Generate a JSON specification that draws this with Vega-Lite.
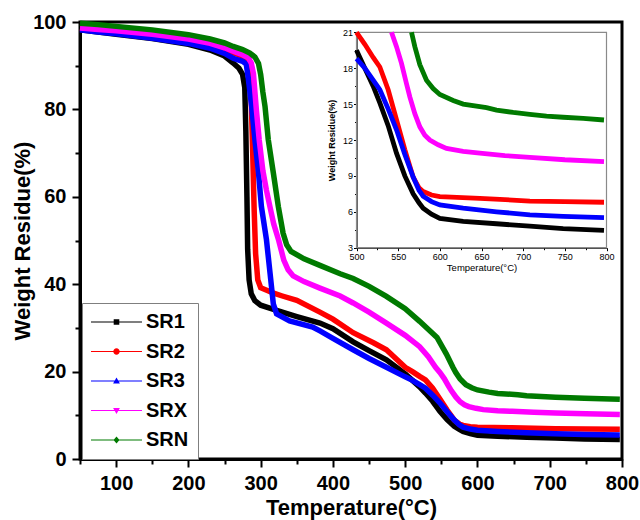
{
  "$schema": "https://vega.github.io/schema/vega-lite/v6.json",
  "autosize": "none",
  "width": 542,
  "height": 437,
  "padding": {"left": 80, "top": 22, "right": 18, "bottom": 61},
  "background": "white",
  "config": {
    "view": {"stroke": "black", "strokeWidth": 3},
    "font": "Liberation Sans",
    "axis": {"labelFont": "Liberation Sans", "titleFont": "Liberation Sans", "grid": false, "labelOverlap": false, "labelFlush": false}
  },
  "datasets": {
    "main": [
      {"s":"SR1","t":50,"w":98.2},{"s":"SR1","t":75,"w":97.7},{"s":"SR1","t":100,"w":97.2},{"s":"SR1","t":150,"w":96.2},{"s":"SR1","t":200,"w":94.9},{"s":"SR1","t":230,"w":93.6},{"s":"SR1","t":250,"w":92.2},{"s":"SR1","t":262,"w":90.6},{"s":"SR1","t":270,"w":89.4},{"s":"SR1","t":275,"w":88.0},{"s":"SR1","t":278,"w":85.0},{"s":"SR1","t":279.5,"w":75},{"s":"SR1","t":281,"w":60},{"s":"SR1","t":282,"w":48},{"s":"SR1","t":284,"w":41},{"s":"SR1","t":287,"w":37.8},{"s":"SR1","t":292,"w":36.2},{"s":"SR1","t":300,"w":35.2},{"s":"SR1","t":320,"w":34.1},{"s":"SR1","t":350,"w":32.6},{"s":"SR1","t":382,"w":31.1},{"s":"SR1","t":400,"w":29.8},{"s":"SR1","t":428,"w":26.8},{"s":"SR1","t":450,"w":24.8},{"s":"SR1","t":474,"w":22.7},{"s":"SR1","t":500,"w":19.5},{"s":"SR1","t":510,"w":18.0},{"s":"SR1","t":520,"w":16.5},{"s":"SR1","t":528,"w":15.1},{"s":"SR1","t":538,"w":13.2},{"s":"SR1","t":548,"w":10.9},{"s":"SR1","t":558,"w":9.0},{"s":"SR1","t":568,"w":7.5},{"s":"SR1","t":575,"w":6.75},{"s":"SR1","t":580,"w":6.3},{"s":"SR1","t":590,"w":5.8},{"s":"SR1","t":600,"w":5.45},{"s":"SR1","t":628,"w":5.2},{"s":"SR1","t":668,"w":5.0},{"s":"SR1","t":708,"w":4.8},{"s":"SR1","t":748,"w":4.6},{"s":"SR1","t":797,"w":4.45},
      {"s":"SR2","t":50,"w":98.5},{"s":"SR2","t":75,"w":98.2},{"s":"SR2","t":100,"w":97.8},{"s":"SR2","t":150,"w":97.0},{"s":"SR2","t":200,"w":95.9},{"s":"SR2","t":230,"w":94.9},{"s":"SR2","t":250,"w":93.9},{"s":"SR2","t":262,"w":93.0},{"s":"SR2","t":275,"w":92.2},{"s":"SR2","t":282,"w":91.4},{"s":"SR2","t":285,"w":88.5},{"s":"SR2","t":287,"w":82},{"s":"SR2","t":289,"w":70},{"s":"SR2","t":291,"w":57},{"s":"SR2","t":293,"w":47},{"s":"SR2","t":296,"w":41},{"s":"SR2","t":300,"w":39.2},{"s":"SR2","t":310,"w":38.5},{"s":"SR2","t":317,"w":38.0},{"s":"SR2","t":330,"w":37.3},{"s":"SR2","t":350,"w":36.3},{"s":"SR2","t":382,"w":33.6},{"s":"SR2","t":400,"w":32.0},{"s":"SR2","t":428,"w":28.9},{"s":"SR2","t":456,"w":26.6},{"s":"SR2","t":474,"w":25.0},{"s":"SR2","t":500,"w":21.0},{"s":"SR2","t":510,"w":20.0},{"s":"SR2","t":520,"w":18.9},{"s":"SR2","t":528,"w":18.1},{"s":"SR2","t":538,"w":16.2},{"s":"SR2","t":548,"w":13.7},{"s":"SR2","t":558,"w":11.2},{"s":"SR2","t":568,"w":8.9},{"s":"SR2","t":575,"w":8.0},{"s":"SR2","t":580,"w":7.7},{"s":"SR2","t":590,"w":7.4},{"s":"SR2","t":600,"w":7.27},{"s":"SR2","t":648,"w":7.13},{"s":"SR2","t":708,"w":6.9},{"s":"SR2","t":750,"w":6.85},{"s":"SR2","t":797,"w":6.8},
      {"s":"SR3","t":50,"w":98.2},{"s":"SR3","t":75,"w":97.7},{"s":"SR3","t":100,"w":97.3},{"s":"SR3","t":150,"w":96.3},{"s":"SR3","t":200,"w":95.1},{"s":"SR3","t":230,"w":94.0},{"s":"SR3","t":250,"w":92.8},{"s":"SR3","t":262,"w":91.7},{"s":"SR3","t":275,"w":91.0},{"s":"SR3","t":280,"w":90.4},{"s":"SR3","t":283,"w":87},{"s":"SR3","t":287.5,"w":80.7},{"s":"SR3","t":292,"w":73.1},{"s":"SR3","t":297,"w":65.5},{"s":"SR3","t":301,"w":57.8},{"s":"SR3","t":308,"w":50.2},{"s":"SR3","t":313,"w":42.5},{"s":"SR3","t":317.5,"w":35.5},{"s":"SR3","t":322,"w":33.2},{"s":"SR3","t":340,"w":31.6},{"s":"SR3","t":372,"w":30.2},{"s":"SR3","t":382,"w":29.3},{"s":"SR3","t":400,"w":27.6},{"s":"SR3","t":428,"w":25.0},{"s":"SR3","t":450,"w":23.0},{"s":"SR3","t":474,"w":21.0},{"s":"SR3","t":500,"w":18.8},{"s":"SR3","t":510,"w":18.0},{"s":"SR3","t":520,"w":17.0},{"s":"SR3","t":528,"w":16.2},{"s":"SR3","t":538,"w":14.6},{"s":"SR3","t":548,"w":12.85},{"s":"SR3","t":558,"w":10.8},{"s":"SR3","t":568,"w":8.9},{"s":"SR3","t":575,"w":7.8},{"s":"SR3","t":580,"w":7.3},{"s":"SR3","t":590,"w":6.85},{"s":"SR3","t":600,"w":6.57},{"s":"SR3","t":628,"w":6.3},{"s":"SR3","t":668,"w":6.0},{"s":"SR3","t":708,"w":5.75},{"s":"SR3","t":748,"w":5.62},{"s":"SR3","t":797,"w":5.52},
      {"s":"SRX","t":50,"w":98.6},{"s":"SRX","t":75,"w":98.3},{"s":"SRX","t":100,"w":98.0},{"s":"SRX","t":150,"w":97.2},{"s":"SRX","t":200,"w":96.1},{"s":"SRX","t":230,"w":95.1},{"s":"SRX","t":250,"w":94.1},{"s":"SRX","t":262,"w":93.3},{"s":"SRX","t":275,"w":92.5},{"s":"SRX","t":283,"w":91.8},{"s":"SRX","t":287,"w":90.6},{"s":"SRX","t":290,"w":88.2},{"s":"SRX","t":294,"w":80},{"s":"SRX","t":298,"w":73},{"s":"SRX","t":303,"w":66},{"s":"SRX","t":308,"w":61.5},{"s":"SRX","t":313,"w":57.6},{"s":"SRX","t":318,"w":53.8},{"s":"SRX","t":325,"w":50.0},{"s":"SRX","t":332,"w":45.5},{"s":"SRX","t":338,"w":43.3},{"s":"SRX","t":345,"w":41.9},{"s":"SRX","t":360,"w":40.6},{"s":"SRX","t":382,"w":39.1},{"s":"SRX","t":410,"w":37.3},{"s":"SRX","t":428,"w":35.7},{"s":"SRX","t":450,"w":33.6},{"s":"SRX","t":474,"w":31.1},{"s":"SRX","t":500,"w":28.3},{"s":"SRX","t":520,"w":25.7},{"s":"SRX","t":532,"w":23.4},{"s":"SRX","t":542,"w":21.0},{"s":"SRX","t":548,"w":19.8},{"s":"SRX","t":554,"w":18.4},{"s":"SRX","t":560,"w":16.7},{"s":"SRX","t":564,"w":15.6},{"s":"SRX","t":570,"w":14.2},{"s":"SRX","t":576,"w":13.1},{"s":"SRX","t":582,"w":12.4},{"s":"SRX","t":588,"w":12.0},{"s":"SRX","t":598,"w":11.6},{"s":"SRX","t":608,"w":11.3},{"s":"SRX","t":628,"w":11.05},{"s":"SRX","t":648,"w":10.9},{"s":"SRX","t":678,"w":10.7},{"s":"SRX","t":708,"w":10.55},{"s":"SRX","t":750,"w":10.35},{"s":"SRX","t":797,"w":10.2},
      {"s":"SRN","t":50,"w":99.7},{"s":"SRN","t":75,"w":99.4},{"s":"SRN","t":100,"w":99.0},{"s":"SRN","t":150,"w":98.2},{"s":"SRN","t":200,"w":97.1},{"s":"SRN","t":230,"w":96.1},{"s":"SRN","t":250,"w":95.2},{"s":"SRN","t":262,"w":94.4},{"s":"SRN","t":275,"w":93.7},{"s":"SRN","t":285,"w":92.9},{"s":"SRN","t":292,"w":92.0},{"s":"SRN","t":297,"w":90.5},{"s":"SRN","t":300,"w":88},{"s":"SRN","t":303,"w":84},{"s":"SRN","t":306,"w":80.7},{"s":"SRN","t":310.5,"w":73.1},{"s":"SRN","t":317.5,"w":65.5},{"s":"SRN","t":324.4,"w":57.8},{"s":"SRN","t":331,"w":51.7},{"s":"SRN","t":336,"w":49},{"s":"SRN","t":342,"w":47.5},{"s":"SRN","t":360,"w":45.8},{"s":"SRN","t":382,"w":44.3},{"s":"SRN","t":410,"w":42.4},{"s":"SRN","t":428,"w":41.3},{"s":"SRN","t":450,"w":39.5},{"s":"SRN","t":474,"w":37.2},{"s":"SRN","t":500,"w":34.4},{"s":"SRN","t":520,"w":31.5},{"s":"SRN","t":544,"w":27.8},{"s":"SRN","t":557,"w":24.0},{"s":"SRN","t":566,"w":21.0},{"s":"SRN","t":570,"w":19.8},{"s":"SRN","t":576,"w":18.3},{"s":"SRN","t":584,"w":17.0},{"s":"SRN","t":592,"w":16.3},{"s":"SRN","t":600,"w":15.8},{"s":"SRN","t":616,"w":15.3},{"s":"SRN","t":628,"w":15.0},{"s":"SRN","t":656,"w":14.7},{"s":"SRN","t":668,"w":14.5},{"s":"SRN","t":688,"w":14.3},{"s":"SRN","t":708,"w":14.15},{"s":"SRN","t":728,"w":14.0},{"s":"SRN","t":748,"w":13.9},{"s":"SRN","t":772,"w":13.8},{"s":"SRN","t":797,"w":13.67}
    ]
  },
  "layer": [
    {
      "data": {"name": "main"},
      "encoding": {
        "x": {
          "field": "t", "type": "quantitative",
          "scale": {"domain": [50, 800], "nice": false, "zero": false},
          "axis": {
            "values": [50,100,150,200,250,300,350,400,450,500,550,600,650,700,750,800],
            "labelExpr": "datum.value % 100 === 0 ? datum.label : ''",
            "format": "d",
            "tickSize": {"condition": {"test": "datum.value % 100 === 0", "value": 8}, "value": 5},
            "tickWidth": 2, "tickColor": "black",
            "domainWidth": 3, "domainColor": "black",
            "labelFontSize": 20, "labelFontWeight": "bold", "labelColor": "black", "labelPadding": 6,
            "title": "Temperature(°C)", "titleFontSize": 22, "titleFontWeight": "bold", "titleColor": "black", "titlePadding": 4
          }
        },
        "y": {
          "field": "w", "type": "quantitative",
          "scale": {"domain": [0, 100], "nice": false, "zero": false},
          "axis": {
            "values": [0,10,20,30,40,50,60,70,80,90,100],
            "labelExpr": "datum.value % 20 === 0 ? datum.label : ''",
            "tickSize": {"condition": {"test": "datum.value % 20 === 0", "value": 8}, "value": 5},
            "tickWidth": 2, "tickColor": "black",
            "domainWidth": 3, "domainColor": "black",
            "labelFontSize": 20, "labelFontWeight": "bold", "labelColor": "black", "labelPadding": 6,
            "title": "Weight Residue(%)", "titleFontSize": 22, "titleFontWeight": "bold", "titleColor": "black", "titlePadding": -2
          }
        },
        "color": {
          "field": "s", "type": "nominal",
          "scale": {"domain": ["SR1","SR2","SR3","SRX","SRN"], "range": ["#000000","#ff0000","#0000ff","#ff00ff","#007a00"]}
        }
      },
      "layer": [
        {
          "mark": {"type": "point", "filled": true, "opacity": 0},
          "encoding": {
            "shape": {
              "field": "s", "type": "nominal",
              "scale": {
                "domain": ["SR1","SR2","SR3","SRX","SRN"],
                "range": [
                  "M-2.55,-0.05H2.55V0.05H-2.55Z M-0.28,-0.28H0.28V0.28H-0.28Z",
                  "M-2.55,-0.05H2.55V0.05H-2.55Z M-0.32,0A0.32,0.32 0 1,1 0.32,0A0.32,0.32 0 1,1 -0.32,0Z",
                  "M-2.55,-0.05H2.55V0.05H-2.55Z M0,-0.36L0.34,0.26L-0.34,0.26Z",
                  "M-2.55,-0.05H2.55V0.05H-2.55Z M0,0.36L-0.34,-0.26L0.34,-0.26Z",
                  "M-2.55,-0.05H2.55V0.05H-2.55Z M0,-0.36L0.3,0L0,0.36L-0.3,0Z"
                ]
              },
              "legend": null
            },
            "color": {
              "field": "s", "type": "nominal",
              "legend": {
                "title": null,
                "orient": "none", "legendX": 2, "legendY": 281,
                "fillColor": "white", "strokeColor": "#7f7f7f",
                "padding": 9,
                "symbolSize": 400, "symbolStrokeWidth": 0, "symbolOpacity": 1, "symbolOffset": 15.5,
                "labelFont": "Liberation Sans", "labelFontSize": 20, "labelFontWeight": "bold", "labelColor": "black",
                "labelOffset": 19.5, "rowPadding": 9.5
              }
            }
          }
        },
        {
          "mark": {"type": "line", "strokeWidth": 5.5},
          "encoding": {"color": {"field": "s", "type": "nominal", "legend": null}}
        }
      ]
    },
    {
      "layer": [
        {
          "data": {"values": [{}]},
          "mark": {"type": "rect", "fill": "white", "fillOpacity": 0, "stroke": "#8a8a8a", "strokeWidth": 1.2},
          "encoding": {
            "x": {"datum": 500, "type": "quantitative"},
            "x2": {"datum": 800},
            "y": {"datum": 3, "type": "quantitative"},
            "y2": {"datum": 21}
          }
        },
        {
          "data": {"name": "main"},
          "transform": [{"filter": "datum.t >= 500 && datum.w <= 21"}],
          "mark": {"type": "line", "strokeWidth": 4.8},
          "encoding": {
            "x": {"field": "t", "type": "quantitative"},
            "y": {"field": "w", "type": "quantitative"},
            "color": {"field": "s", "type": "nominal", "legend": null}
          }
        }
      ],
      "encoding": {
        "x": {
          "type": "quantitative",
          "scale": {"domain": [500, 800], "nice": false, "zero": false, "range": [276.5, 526.5]},
          "axis": {
            "orient": "bottom", "offset": -211.3,
            "values": [500,525,550,575,600,625,650,675,700,725,750,775,800],
            "labelExpr": "datum.value % 50 === 0 ? datum.label : ''",
            "format": "d",
            "tickSize": {"condition": {"test": "datum.value % 50 === 0", "value": 3}, "value": 2},
            "tickWidth": 1, "tickColor": "black",
            "domainWidth": 1.2, "domainColor": "black",
            "labelFontSize": 9, "labelColor": "black", "labelPadding": 2,
            "title": "Temperature(°C)", "titleFontSize": 9.5, "titleFontWeight": "normal", "titleColor": "black", "titlePadding": 1
          }
        },
        "y": {
          "type": "quantitative",
          "scale": {"domain": [3, 21], "nice": false, "zero": false, "range": [225.7, 10.3]},
          "axis": {
            "orient": "left", "offset": -276.5,
            "values": [3,4.5,6,7.5,9,10.5,12,13.5,15,16.5,18,19.5,21],
            "labelExpr": "datum.value % 3 === 0 ? datum.label : ''",
            "tickSize": {"condition": {"test": "datum.value % 3 === 0", "value": 3}, "value": 2},
            "tickWidth": 1, "tickColor": "black",
            "domainWidth": 1.2, "domainColor": "black",
            "labelFontSize": 9, "labelColor": "black", "labelPadding": 1,
            "title": "Weight Residue(%)", "titleFontSize": 9, "titleFontWeight": "bold", "titleColor": "black", "titlePadding": 6
          }
        },
        "color": {"field": "s", "type": "nominal"}
      }
    }
  ],
  "resolve": {
    "scale": {"x": "independent", "y": "independent"},
    "axis": {"x": "independent", "y": "independent"}
  }
}
